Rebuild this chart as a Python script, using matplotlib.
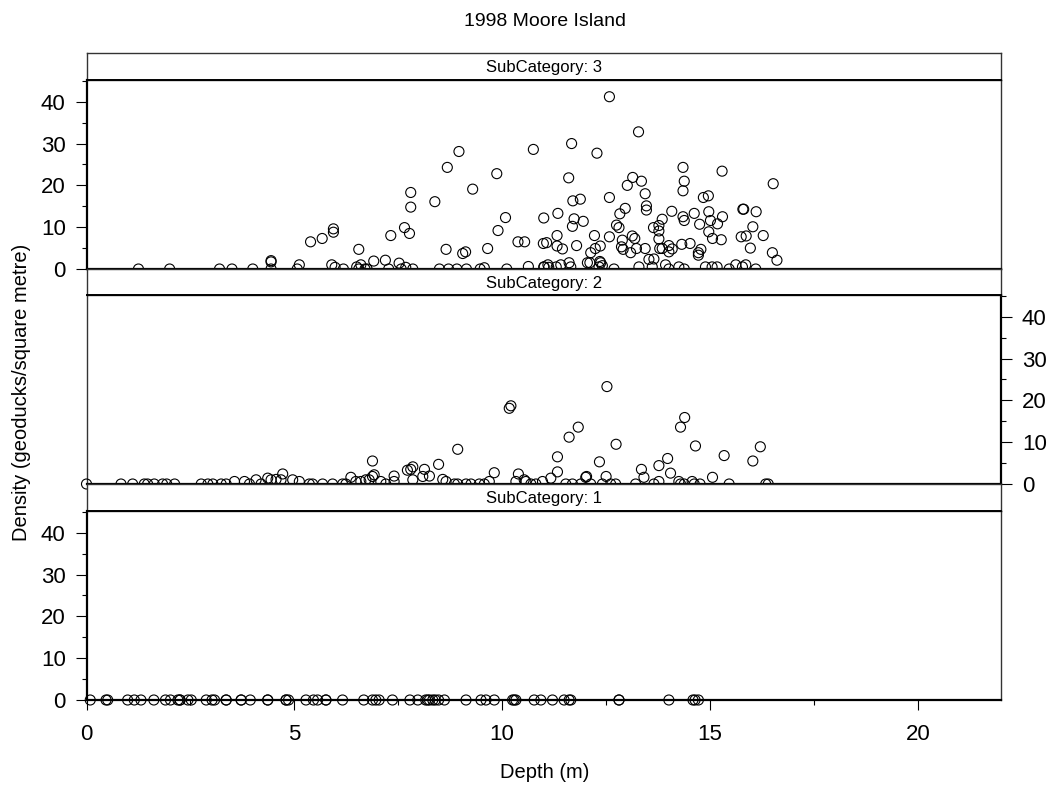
import matplotlib
matplotlib.use("Agg")
import matplotlib.pyplot as plt
import numpy as np

plt.rcParams['font.family'] = ['Liberation Sans', 'DejaVu Sans']

title = "1998 Moore Island"
xlabel = "Depth (m)"
ylabel = "Density (geoducks/square metre)"
categories = ["SubCategory: 3", "SubCategory: 2", "SubCategory: 1"]
x_ticks = [0, 5, 10, 15, 20]
y_ticks = [0, 10, 20, 30, 40]

# SubCategory 3 (top panel)
depth_3 = [1.25, 2.0, 3.2, 3.5, 4.0, 4.44, 4.44, 4.44, 5.07, 5.12, 5.39, 5.67, 5.94, 5.94, 5.9, 5.98,
           6.18, 6.55, 6.5, 6.6, 6.55, 6.7, 6.75, 6.91, 7.19, 7.32, 7.27, 7.52, 7.57, 7.68, 7.85, 7.65,
           7.77, 7.80, 7.80, 8.38, 8.49, 8.71, 8.91, 9.14, 8.65, 8.68, 8.96, 9.05, 9.12, 9.29, 9.47,
           9.57, 9.65, 9.87, 9.90, 10.08, 10.11, 10.38, 10.54, 10.63, 10.75, 11.0, 10.99, 11.07, 11.0,
           11.1, 11.12, 11.34, 11.32, 11.32,
           12.58, 13.28, 11.67, 12.28, 11.6, 11.70, 11.88, 11.73, 11.95, 11.69, 11.45, 11.79, 12.22,
           12.58, 13.14, 13.35, 13.01, 13.44, 13.47, 13.47, 12.96, 12.83, 12.58, 12.36, 12.24, 12.13,
           12.11, 12.35, 12.37, 12.41, 12.75, 12.81, 12.89, 12.87, 12.91, 13.09, 13.13, 13.19, 13.23,
           13.44, 13.53, 13.65, 13.64, 13.77, 13.77, 13.85, 13.77, 13.79, 13.85, 14.08, 14.01, 14.01,
           14.09, 14.35, 14.38, 14.35, 14.35, 14.38, 14.32, 14.52, 14.62, 14.75, 14.84, 14.96, 14.97,
           15.01, 15.18, 15.3, 14.97, 15.06, 15.27, 14.72, 14.72, 14.78, 15.29, 15.79, 15.81, 16.11,
           16.03, 15.75, 15.87, 16.28, 15.97, 16.52, 16.5, 16.61,
           11.01, 11.30, 11.41, 11.61, 11.65, 12.05, 12.33, 12.69, 13.29, 13.61, 13.93, 14.01, 14.25,
           14.38, 14.89, 15.05, 15.17, 15.46, 15.62, 15.78, 15.86, 16.10]
density_3 = [0, 0, 0, 0, 0, 2.0, 1.7, 0, 0, 1.0, 6.5, 7.3, 9.6, 8.8, 1.0, 0.4,
             0, 4.7, 0.5, 1.0, 0, 0, 0, 1.9, 2.1, 8.0, 0, 1.4, 0, 0.4, 0, 9.9,
             8.5, 18.3, 14.8, 16.1, 0, 0, 0, 0, 4.7, 24.3, 28.1, 3.7, 4.1, 19.1, 0,
             0.3, 4.9, 22.8, 9.2, 12.3, 0, 6.5, 6.5, 0.6, 28.6, 12.2, 6.1, 6.3, 0.5,
             1.0, 0.4, 13.3, 8.0, 5.5,
             41.2, 32.8, 30.0, 27.7, 21.8, 16.3, 16.7, 12.0, 11.4, 10.2, 4.8, 5.6, 8.0,
             17.1, 21.9, 21.0, 20.0, 18.0, 15.1, 14.1, 14.5, 13.2, 7.7, 5.5, 4.9, 3.9,
             1.5, 1.8, 1.5, 0.8, 10.5, 9.9, 6.9, 5.3, 4.7, 3.9, 7.9, 7.3, 4.9,
             4.9, 2.3, 2.4, 9.9, 10.4, 9.1, 11.9, 7.2, 4.9, 4.9, 13.8, 5.6, 4.1,
             4.8, 24.3, 21.0, 18.7, 12.5, 11.6, 5.9, 6.1, 13.3, 10.7, 17.1, 17.5, 13.7,
             11.6, 10.8, 12.5, 8.9, 7.3, 7.0, 3.9, 3.3, 4.7, 23.4, 14.3, 14.3, 13.7,
             10.1, 7.7, 7.9, 8.0, 5.0, 20.4, 3.9, 2.1,
             0.5, 0.5, 1.0, 1.5, 0.5, 1.5, 0.5, 0, 0.5, 0.5, 1.0, 0, 0.5,
             0, 0.5, 0.5, 0.5, 0, 1.0, 0.5, 1.0, 0]

# SubCategory 2 (middle panel)
depth_2 = [0.0, 0.83, 1.11, 1.39, 1.47, 1.63, 1.83, 1.93, 2.12,
           2.76, 2.92, 3.04, 3.24, 3.36, 3.56, 3.80, 3.92, 4.08, 4.20, 4.36, 4.44, 4.56, 4.72, 4.68,
           4.96, 5.12, 5.36, 5.44, 5.68, 5.92, 6.16, 6.24, 6.36, 6.48, 6.60, 6.72, 6.80, 6.88, 6.92,
           6.88, 7.08, 7.2, 7.40, 7.40, 7.72, 7.80, 7.85, 7.85, 8.13, 8.09, 8.25, 8.47, 8.57, 8.65,
           8.93, 8.85, 8.93, 9.13, 9.25, 9.45, 9.57, 9.69, 9.81, 10.17, 10.21, 10.33, 10.39, 10.53,
           10.57, 10.69, 10.81, 10.97, 11.17, 11.33, 11.33,
           11.61, 11.83, 11.53, 11.69, 11.89, 12.01, 12.03, 12.13, 12.34, 12.52, 12.5, 12.41, 12.61,
           12.73, 12.74, 13.21, 13.35, 13.41, 13.65, 13.77, 13.77, 13.98, 14.05, 14.25, 14.29, 14.38,
           14.29, 14.39, 14.65, 14.57, 14.62, 14.76, 15.06, 15.34, 15.46, 16.03, 16.21, 16.34, 16.40]
density_2 = [0, 0, 0, 0, 0, 0, 0, 0, 0,
             0, 0, 0, 0, 0, 0.6, 0.6, 0, 1.0, 0, 1.4, 1.0, 1.1, 2.4, 1.0,
             1.0, 0.6, 0, 0, 0, 0, 0, 0, 1.6, 0.6, 0.6, 1.0, 1.0, 5.5, 2.2,
             1.8, 0.6, 0, 1.9, 0.6, 3.3, 3.5, 4.1, 1.0, 3.5, 1.8, 1.9, 4.7, 1.1, 0.6,
             8.3, 0, 0, 0, 0, 0, 0, 0.6, 2.7, 18.1, 18.7, 0.6, 2.4, 1.0,
             0.6, 0, 0, 0.6, 1.4, 2.9, 6.5,
             11.2, 13.6, 0, 0, 0, 1.6, 1.8, 0, 5.3, 23.3, 1.8, 0, 0,
             0, 9.5, 0, 3.5, 1.6, 0, 0.6, 4.4, 6.1, 2.6, 0.6, 0, 0,
             13.6, 15.9, 9.1, 0.6, 0, 0, 1.6, 6.8, 0, 5.5, 8.9, 0, 0]

# SubCategory 1 (bottom panel)
depth_1 = [0.09, 0.47, 0.51, 0.99, 1.15, 1.31, 1.62, 1.90, 2.02, 2.20, 2.25, 2.25, 2.44, 2.52,
           2.88, 3.02, 3.08, 3.36, 3.36, 3.72, 3.72, 3.94, 4.36, 4.36, 4.80, 4.80, 4.86, 5.28, 5.46,
           5.56, 5.76, 5.76, 6.16, 6.67, 6.88, 6.96, 7.04, 7.36, 7.78, 7.97, 8.16, 8.21, 8.25, 8.33,
           8.39, 8.47, 8.61, 9.13, 9.49, 9.61, 9.81, 10.25, 10.29, 10.33, 10.77, 10.93, 11.21,
           11.49, 11.61, 11.65, 12.81, 12.81, 14.01, 14.59, 14.64, 14.72]
density_1 = [0.0] * len(depth_1)

xs = [depth_3, depth_2, depth_1]
ys = [density_3, density_2, density_1]

W, H = 1052, 786
fig = plt.figure(figsize=(W / 100, H / 100), dpi=100)
fig.patch.set_facecolor('white')

left_px, right_px = 86.5, 1001
panels_px = [(80, 269), (295, 484), (511, 700)]
strips_px = [(53, 80), (269, 295), (484, 511)]
tick_side = ['left', 'right', 'left']

def frac_rect(top, bottom):
    return [left_px / W, 1 - bottom / H, (right_px - left_px) / W, (bottom - top) / H]

for i in range(3):
    ax = fig.add_axes(frac_rect(*panels_px[i]), zorder=1)
    ax.scatter(xs[i], ys[i], s=52, facecolors='none', edgecolors='black',
               linewidths=0.8, clip_on=False, zorder=3)
    ax.set_xlim(0, 22)
    ax.set_ylim(0, 45.2)
    for sp in ax.spines.values():
        sp.set_linewidth(1.0)
        sp.set_color('#333333')
    ax.spines['bottom'].set_linewidth(1.6)
    ax.spines['bottom'].set_color('black')
    ax.spines[tick_side[i]].set_linewidth(1.6)
    ax.spines[tick_side[i]].set_color('black')
    ax.set_yticks(y_ticks)
    ax.set_yticks([5, 15, 25, 35, 45], minor=True)
    if tick_side[i] == 'right':
        ax.yaxis.tick_right()
        ax.yaxis.set_label_position('right')
    ax.tick_params(axis='y', which='major', direction='out', length=8, width=0.8,
                   labelsize=16, pad=7)
    ax.tick_params(axis='y', which='minor', direction='out', length=3.6, width=0.8)
    if i == 2:
        ax.set_xticks(x_ticks)
        ax.set_xticks([2.5, 7.5, 12.5, 17.5], minor=True)
        ax.tick_params(axis='x', which='major', direction='out', length=7.5, width=0.8,
                       labelsize=16, pad=10)
        ax.tick_params(axis='x', which='minor', direction='out', length=3.6, width=0.8)
    else:
        ax.set_xticks([])
        ax.set_xticks([], minor=True)

    sax = fig.add_axes(frac_rect(*strips_px[i]), zorder=2)
    sax.set_facecolor('white')
    sax.set_xticks([])
    sax.set_yticks([])
    for sp in sax.spines.values():
        sp.set_linewidth(1.0)
        sp.set_color('#333333')
    sax.spines['bottom'].set_color('black')
    sax.spines['bottom'].set_linewidth(1.4)
    sax.text(0.5, 0.45, categories[i], ha='center', va='center', fontsize=12,
             transform=sax.transAxes)

fig.text(545 / W, 1 - 22 / H, title, ha='center', va='center', fontsize=14)
fig.text(545 / W, 1 - 772 / H, xlabel, ha='center', va='center', fontsize=14.5)
fig.text(22 / W, 1 - 392 / H, ylabel, ha='center', va='center', rotation=90, fontsize=14.5)

fig.savefig("out.png", dpi=100, facecolor='white')
